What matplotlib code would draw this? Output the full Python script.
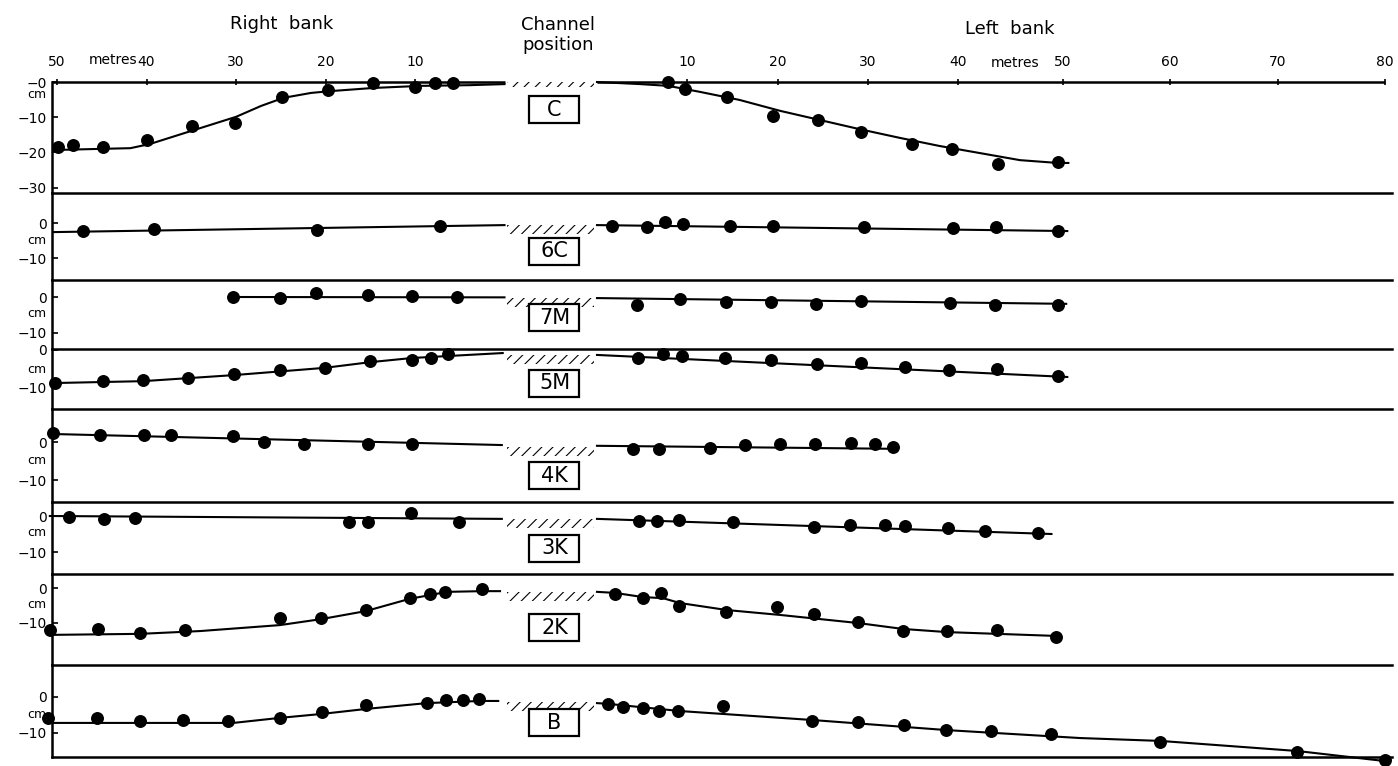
import numpy as np
import matplotlib.pyplot as plt
from matplotlib.patches import Rectangle

plt.rcParams['font.family'] = ['DejaVu Sans']
plt.rcParams['hatch.linewidth'] = 0.8

# ---- data: distance from channel edge (metres), change of bed level (cm) ----
names = ['C', '6C', '7M', '5M', '4K', '3K', '2K', 'B']

# C
c_r_m = [49.9, 48.2, 44.9, 39.9, 34.9, 30.1, 24.9, 19.7, 14.7, 10.0, 7.8, 5.8]
c_r_cm = [-18.5, -17.9, -18.5, -16.5, -12.5, -11.6, -4.3, -2.3, -0.3, -1.4, -0.3, -0.3]
c_rl_m = [50.0, 45.2, 41.8, 39.6, 35.0, 30.0, 27.2, 24.7, 21.6, 19.5, 14.7, 9.4, 3.9, 0.0]
c_rl_cm = [-19.3, -19.0, -18.8, -17.6, -13.9, -9.9, -6.8, -4.5, -3.1, -2.6, -1.7, -1.1, -0.9, -0.6]
c_l_m = [7.9, 9.7, 14.4, 19.5, 24.5, 29.3, 34.9, 39.3, 43.8, 49.5]
c_l_cm = [0.0, -2.0, -4.3, -9.7, -10.8, -14.2, -17.6, -19.0, -23.3, -22.7]
c_ll_m = [0, 4.8, 7.9, 11.4, 15.8, 20.3, 24.7, 29.1, 33.6, 38.0, 42.1, 45.9, 49.5, 50.5]
c_ll_cm = [0, -0.6, -1.1, -2.8, -5.1, -8.2, -10.8, -13.4, -15.9, -18.2, -20.2, -22.2, -23.0, -23.0]

# 6C
c6_r_m = [47.1, 39.2, 20.9, 7.2]
c6_r_cm = [-2.2, -1.7, -2.0, -0.9]
c6_rl_m = [50.4, 0]
c6_rl_cm = [-2.6, -0.6]
c6_l_m = [1.7, 5.5, 7.5, 9.5, 14.7, 19.5, 29.6, 39.4, 43.6, 49.5]
c6_l_cm = [-0.9, -1.1, 0.3, -0.3, -0.9, -0.9, -1.1, -1.4, -1.1, -2.3]
c6_ll_m = [0, 50.4]
c6_ll_cm = [-0.6, -2.3]

# 7M
m7_r_m = [30.3, 25.1, 21.1, 15.2, 10.3, 5.3]
m7_r_cm = [0, -0.3, 1.1, 0.6, 0.3, 0]
m7_rl_m = [30.3, 0]
m7_rl_cm = [0, -0.1]
m7_l_m = [4.4, 9.2, 14.3, 19.3, 24.3, 29.3, 39.1, 43.5, 49.5]
m7_l_cm = [-2.2, -0.6, -1.4, -1.4, -1.9, -1.1, -1.7, -2.2, -2.2]
m7_ll_m = [0, 50.3]
m7_ll_cm = [-0.3, -1.9]

# 5M
m5_r_m = [50.2, 44.9, 40.4, 35.4, 30.2, 25.1, 20.1, 15.0, 10.3, 8.2, 6.3]
m5_r_cm = [-8.7, -8.2, -7.9, -7.4, -6.3, -5.3, -4.7, -2.9, -2.6, -2.1, -1.1]
m5_rl_m = [50.4, 40.4, 30.2, 20.1, 15.0, 10.3, 0.2]
m5_rl_cm = [-8.7, -8.2, -6.6, -4.7, -3.2, -2.1, -0.8]
m5_l_m = [4.5, 7.3, 9.4, 14.2, 19.3, 24.4, 29.3, 34.1, 39.0, 43.7, 49.5]
m5_l_cm = [-2.1, -1.1, -1.6, -2.1, -2.6, -3.7, -3.4, -4.5, -5.3, -5.0, -6.8]
m5_ll_m = [0, 50.4]
m5_ll_cm = [-1.3, -7.1]

# 4K
k4_r_m = [50.4, 45.2, 40.3, 37.3, 30.3, 26.9, 22.4, 15.3, 10.3]
k4_r_cm = [2.4, 1.8, 1.8, 1.8, 1.6, 0, -0.5, -0.5, -0.5]
k4_rl_m = [50.4, 0.3]
k4_rl_cm = [2.1, -0.8]
k4_l_m = [4.0, 6.9, 12.5, 16.4, 20.3, 24.1, 28.1, 30.8, 32.8]
k4_l_cm = [-1.8, -1.8, -1.6, -0.8, -0.5, -0.5, -0.3, -0.5, -1.3]
k4_ll_m = [0, 33.3]
k4_ll_cm = [-1.0, -1.8]

# 3K
k3_r_m = [48.7, 44.7, 41.3, 17.4, 15.3, 10.4, 5.1]
k3_r_cm = [-0.3, -0.8, -0.6, -1.7, -1.7, 0.8, -1.7]
k3_rl_m = [50.8, 0.3]
k3_rl_cm = [0, -0.8]
k3_l_m = [4.7, 6.6, 9.1, 15.1, 24.0, 28.0, 31.9, 34.1, 38.9, 42.6, 47.6]
k3_l_cm = [-1.4, -1.4, -1.1, -1.7, -3.1, -2.5, -2.5, -2.8, -3.3, -4.2, -4.7]
k3_ll_m = [0, 48.9]
k3_ll_cm = [-0.8, -5.0]

# 2K
k2_r_m = [50.8, 45.4, 40.7, 35.7, 25.1, 20.5, 15.5, 10.6, 8.3, 6.6, 2.5]
k2_r_cm = [-12.0, -11.7, -12.9, -12.0, -8.6, -8.6, -6.3, -2.9, -1.7, -1.1, -0.3]
k2_rl_m = [50.8, 40.7, 34.0, 25.1, 20.5, 15.5, 10.6, 6.4, 2.5, 0.5]
k2_rl_cm = [-13.4, -13.1, -12.3, -10.6, -8.9, -6.6, -3.1, -1.1, -0.9, -0.9]
k2_l_m = [2.0, 5.1, 7.1, 9.1, 14.3, 19.9, 24.0, 28.9, 33.9, 38.8, 43.7, 49.3]
k2_l_cm = [-1.7, -2.9, -1.4, -5.1, -6.9, -5.4, -7.4, -9.7, -12.3, -12.3, -12.0, -14.0]
k2_ll_m = [0, 2.0, 5.1, 7.3, 9.2, 14.4, 20.3, 28.9, 33.9, 38.8, 43.7, 49.4]
k2_ll_cm = [-1.1, -1.4, -2.6, -2.9, -4.3, -6.3, -7.7, -10.0, -11.7, -12.6, -13.1, -13.7]

# B
b_r_m = [51.0, 45.5, 40.7, 35.9, 30.9, 25.1, 20.4, 15.5, 8.7, 6.5, 4.6, 2.8]
b_r_cm = [-5.8, -5.8, -6.7, -6.4, -6.7, -5.8, -4.2, -2.2, -1.7, -0.8, -0.8, -0.6]
b_rl_m = [51.1, 41.5, 30.3, 25.1, 20.4, 15.4, 8.7, 2.7, 0.7]
b_rl_cm = [-7.2, -7.2, -7.2, -5.8, -4.7, -3.3, -1.7, -1.1, -1.1]
b_l_m = [1.2, 2.9, 5.1, 6.9, 9.0, 14.0, 23.8, 28.9, 34.0, 38.7, 43.1, 48.9, 59.1, 71.8, 80.0]
b_l_cm = [-1.9, -2.8, -3.1, -3.9, -3.9, -2.5, -6.7, -6.9, -7.8, -9.2, -9.4, -10.3, -12.5, -15.3, -17.6]
b_ll_m = [0, 1.2, 9.2, 23.9, 38.8, 51.6, 59.1, 71.8, 80.0]
b_ll_cm = [-1.7, -1.9, -3.9, -6.4, -9.2, -11.4, -12.2, -15.0, -17.8]

profiles = [
    (c_r_m, c_r_cm, c_rl_m, c_rl_cm, c_l_m, c_l_cm, c_ll_m, c_ll_cm),
    (c6_r_m, c6_r_cm, c6_rl_m, c6_rl_cm, c6_l_m, c6_l_cm, c6_ll_m, c6_ll_cm),
    (m7_r_m, m7_r_cm, m7_rl_m, m7_rl_cm, m7_l_m, m7_l_cm, m7_ll_m, m7_ll_cm),
    (m5_r_m, m5_r_cm, m5_rl_m, m5_rl_cm, m5_l_m, m5_l_cm, m5_ll_m, m5_ll_cm),
    (k4_r_m, k4_r_cm, k4_rl_m, k4_rl_cm, k4_l_m, k4_l_cm, k4_ll_m, k4_ll_cm),
    (k3_r_m, k3_r_cm, k3_rl_m, k3_rl_cm, k3_l_m, k3_l_cm, k3_ll_m, k3_ll_cm),
    (k2_r_m, k2_r_cm, k2_rl_m, k2_rl_cm, k2_l_m, k2_l_cm, k2_ll_m, k2_ll_cm),
    (b_r_m, b_r_cm, b_rl_m, b_rl_cm, b_l_m, b_l_cm, b_ll_m, b_ll_cm),
]

right_ticks = [50, 40, 30, 20, 10]
left_ticks = [10, 20, 30, 40, 50, 60, 70, 80]

# ---- layout (pixels of the 1398x766 picture) ----
W, H = 1398, 766
AX_L, AX_R = 52, 1392
bounds = [82, 193, 280, 349, 409, 502, 574, 665, 757]
zero_px = [82, 223, 297, 350, 442, 516, 588, 697]
px_cm = [3.52, 3.5, 3.6, 3.8, 3.8, 3.6, 3.5, 3.6]
hatch_top = [1.0, -0.6, -0.3, -1.2, -1.2, -0.9, -1.0, -1.3]
label_y = [-7.9, -8.0, -5.8, -8.7, -8.9, -8.9, -11.4, -7.2]
cm_px = [13, 17, 16, 20, 18, 17, 16, 17]   # "cm" offset below the 0 tick

# x axis: right bank to the left of the channel, left bank to the right,
# printed scale is not quite uniform on the left bank beyond 40 m
CH = 10.0
S_KNOTS = [-60, -50, 0, CH, CH + 40, CH + 50, CH + 60, CH + 70, CH + 80, CH + 90]
PX_KNOTS = [-32.5, 57, 504.5, 597, 958, 1063, 1170, 1278, 1385, 1492]


def fwd(s):
    return np.interp(s, S_KNOTS, PX_KNOTS)


def inv(p):
    return np.interp(p, PX_KNOTS, S_KNOTS)


fig = plt.figure(figsize=(W / 100, H / 100), dpi=100)
LW = 1.8

for i, name in enumerate(names):
    top, bot = bounds[i], bounds[i + 1]
    z, k = zero_px[i], px_cm[i]
    ax = fig.add_axes([AX_L / W, 1 - bot / H, (AX_R - AX_L) / W, (bot - top) / H])
    ax.patch.set_visible(False)
    ax.set_xscale('function', functions=(fwd, inv))
    ax.set_xlim(inv(AX_L), inv(AX_R))
    ax.set_ylim(-(bot - z) / k, (z - top) / k)

    for side in ['right', 'bottom']:
        ax.spines[side].set_visible(False)
    ax.spines['left'].set_linewidth(LW)
    ax.spines['top'].set_linewidth(LW)
    if i == len(names) - 1:
        ax.spines['bottom'].set_visible(True)
        ax.spines['bottom'].set_linewidth(LW)

    r_m, r_cm, rl_m, rl_cm, l_m, l_cm, ll_m, ll_cm = profiles[i]
    ax.plot(-np.array(rl_m), rl_cm, color='black', lw=1.5, clip_on=False)
    ax.plot(CH + np.array(ll_m), ll_cm, color='black', lw=1.5, clip_on=False)
    ax.plot(-np.array(r_m), r_cm, 'o', color='black', ms=8.3, clip_on=False)
    ax.plot(CH + np.array(l_m), l_cm, 'o', color='black', ms=8.3, clip_on=False)

    # channel position
    hh = 9 / k
    ax.add_patch(Rectangle((0.3, hatch_top[i] - hh), CH - 0.6, hh, fill=False,
                           hatch='///', lw=0, edgecolor='black'))
    bw, bh = 5.4, 27 / k
    ax.add_patch(Rectangle((5.4 - bw / 2, label_y[i] - bh / 2), bw, bh,
                           facecolor='white', edgecolor='black', lw=1.6, zorder=3))
    ax.text(5.4, label_y[i], name, ha='center', va='center', fontsize=15, zorder=4)

    # y axis
    if i == 0:
        ax.set_yticks([0, -10, -20, -30], ['\u22120', '\u221210', '\u221220', '\u221230'])
    else:
        ax.set_yticks([0, -10], ['0', '\u221210'])
    ax.tick_params(axis='y', direction='in', length=4, width=1.2, pad=4, labelsize=10)
    ax.text(-0.004, -cm_px[i] / k, 'cm', transform=ax.get_yaxis_transform(),
            ha='right', va='center', fontsize=9)

    if i == 0:
        ax.spines['top'].set_visible(False)
        ax.hlines(0, inv(AX_L), 0, color='black', lw=LW, clip_on=False)
        ax.hlines(0, CH, CH + 80, color='black', lw=LW, clip_on=False)
        xt = [-v for v in right_ticks] + [CH + v for v in left_ticks]
        xl = [str(v) for v in right_ticks] + [str(v) for v in left_ticks]
        ax.set_xticks(xt, xl)
        ax.tick_params(axis='x', top=True, bottom=False, labeltop=True, labelbottom=False,
                       direction='inout', length=5, width=1.2, pad=7, labelsize=10)
    else:
        ax.set_xticks([])

fig.text(282 / W, 1 - 24 / H, 'Right  bank', ha='center', va='center', fontsize=13)
fig.text(558 / W, 1 - 35 / H, 'Channel\nposition', ha='center', va='center',
         fontsize=13, linespacing=1.2)
fig.text(1010 / W, 1 - 29 / H, 'Left  bank', ha='center', va='center', fontsize=13)
fig.text(113 / W, 1 - 60 / H, 'metres', ha='center', va='center', fontsize=10)
fig.text(1015 / W, 1 - 63 / H, 'metres', ha='center', va='center', fontsize=10)

fig.savefig('out.png', dpi=100)
